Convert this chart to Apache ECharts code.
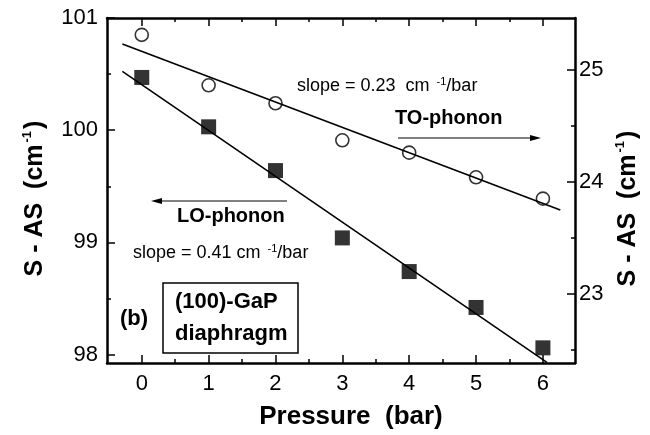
<!DOCTYPE html>
<html lang="en">

<head>
    <meta charset="UTF-8">
    <title>S-AS vs pressure</title>
    <style>
        html, body { margin: 0; padding: 0; background: #fff; }
        #chart { width: 650px; height: 435px; }
    </style>
    <script src="https://cdn.jsdelivr.net/npm/echarts@6/dist/echarts.min.js"></script>
</head>

<body>
    <div id="chart"></div>
    <script>
        // data
        var pressure = [0, 1, 2, 3, 4, 5, 6];
        var loPhonon = [100.47, 100.03, 99.64, 99.04, 98.74, 98.42, 98.06];   // left axis, squares
        var toPhonon = [25.31, 24.86, 24.70, 24.37, 24.26, 24.04, 23.85];     // right axis, circles
        // fitted lines (end points)
        var loFit = [[-0.29, 100.525], [6.06, 97.93]];
        var toFit = [[-0.29, 25.228], [6.26, 23.748]];

        var xMajor = [0, 1, 2, 3, 4, 5, 6];
        var xMinor = [0.5, 1.5, 2.5, 3.5, 4.5, 5.5];
        var leftMajor = [98, 99, 100, 101];
        var leftMinor = [98.5, 99.5, 100.5];
        var rightMajor = [23, 24, 25];
        var rightMinor = [22.5, 23.5, 24.5];

        var FONT = 'Liberation Sans, Arial, sans-serif';

        function pairs(xs, ys) {
            return xs.map(function (x, i) { return [x, ys[i]]; });
        }

        // one axis per tick set: major and minor ticks get their own (overlaid) axis
        function tickAxis(pos, min, max, ticks, len, opts) {
            var ax = {
                type: 'value',
                position: pos,
                min: min,
                max: max,
                axisLine: { show: false, onZero: false },
                axisTick: { show: true, inside: true, length: len, customValues: ticks, lineStyle: { color: '#000', width: 1.5 } },
                axisLabel: { show: false },
                splitLine: { show: false }
            };
            return Object.assign(ax, opts || {});
        }

        var frame = { show: true, onZero: false, lineStyle: { color: '#000', width: 2.5 } };
        var tickFont = { show: true, color: '#000', fontSize: 22, fontFamily: FONT };
        var titleRich = {
            t: { fontSize: 25, fontWeight: 'bold', fontFamily: FONT, color: '#000', lineHeight: 28 },
            s: { fontSize: 13, fontWeight: 'bold', fontFamily: FONT, color: '#000', verticalAlign: 'top', lineHeight: 14, padding: [0, 2, 0, 2] }
        };
        var noteRich = {
            t: { fontSize: 18, fontFamily: FONT, fill: '#000', lineHeight: 20 },
            s: { fontSize: 11, fontFamily: FONT, fill: '#000', verticalAlign: 'top', lineHeight: 11, padding: [0, 0, 0, 2] }
        };

        var X0 = -0.52, X1 = 6.48;
        var L0 = 97.925, L1 = 101;
        var R0 = 22.385, R1 = 25.46;

        echarts.init(document.getElementById('chart')).setOption({
            animation: false,
            backgroundColor: '#fff',
            grid: { left: 107, right: 75, top: 18, bottom: 69 },
            xAxis: [
                tickAxis('bottom', X0, X1, xMajor, 8, {
                    axisLine: frame,
                    axisLabel: Object.assign({ customValues: xMajor, margin: 10 }, tickFont),
                    name: 'Pressure  (bar)',
                    nameLocation: 'middle',
                    nameGap: 41,
                    nameTextStyle: { fontSize: 26, fontWeight: 'bold', fontFamily: FONT, color: '#000', padding: [0, 0, 0, 20] }
                }),
                tickAxis('bottom', X0, X1, xMinor, 4),
                tickAxis('top', X0, X1, xMajor, 8, { axisLine: frame }),
                tickAxis('top', X0, X1, xMinor, 4)
            ],
            yAxis: [
                tickAxis('left', L0, L1, leftMajor, 8, {
                    axisLine: frame,
                    axisLabel: Object.assign({ customValues: leftMajor, margin: 9 }, tickFont),
                    name: '{t|S - AS  (cm}{s|-1}{t|)}',
                    nameLocation: 'middle',
                    nameGap: 58,
                    nameTextStyle: { rich: titleRich, padding: [0, 16, 0, 0] }
                }),
                tickAxis('left', L0, L1, leftMinor, 4),
                tickAxis('right', R0, R1, rightMajor, 8, {
                    axisLine: frame,
                    axisLabel: Object.assign({ customValues: rightMajor, margin: 4 }, tickFont),
                    name: '{t|S - AS  (cm}{s|-1}{t|)}',
                    nameLocation: 'middle',
                    nameGap: 33,
                    nameTextStyle: { rich: titleRich, padding: [0, 36, 0, 0] }
                }),
                tickAxis('right', R0, R1, rightMinor, 4)
            ],
            series: [
                {
                    name: 'LO fit',
                    type: 'line',
                    xAxisIndex: 0,
                    yAxisIndex: 0,
                    data: loFit,
                    symbol: 'none',
                    lineStyle: { color: '#000', width: 1.6 },
                    z: 2
                },
                {
                    name: 'TO fit',
                    type: 'line',
                    xAxisIndex: 0,
                    yAxisIndex: 2,
                    data: toFit,
                    symbol: 'none',
                    lineStyle: { color: '#000', width: 1.6 },
                    z: 2
                },
                {
                    name: 'LO-phonon',
                    type: 'scatter',
                    xAxisIndex: 0,
                    yAxisIndex: 0,
                    data: pairs(pressure, loPhonon),
                    symbol: 'rect',
                    symbolSize: 15,
                    itemStyle: { color: '#000' },
                    z: 3
                },
                {
                    name: 'TO-phonon',
                    type: 'scatter',
                    xAxisIndex: 0,
                    yAxisIndex: 2,
                    data: pairs(pressure, toPhonon),
                    symbol: 'circle',
                    symbolSize: 13,
                    itemStyle: { color: 'rgba(0,0,0,0)', borderColor: '#000', borderWidth: 1.6 },
                    z: 3
                }
            ],
            graphic: [
                {
                    type: 'text', left: 297, top: 76,
                    style: { text: '{t|slope = 0.23  cm }{s|-1}{t|/bar}', rich: noteRich }
                },
                {
                    type: 'text', left: 395, top: 108,
                    style: { text: 'TO-phonon', font: 'bold 20px ' + FONT, fill: '#000' }
                },
                { type: 'line', shape: { x1: 398, y1: 138, x2: 532, y2: 138 }, style: { stroke: '#000', lineWidth: 1 } },
                { type: 'polygon', shape: { points: [[541, 138], [530, 135], [530, 141]] }, style: { fill: '#000' } },
                { type: 'line', shape: { x1: 161, y1: 201, x2: 287, y2: 201 }, style: { stroke: '#000', lineWidth: 1 } },
                { type: 'polygon', shape: { points: [[151, 201], [162, 198], [162, 204]] }, style: { fill: '#000' } },
                {
                    type: 'text', left: 177, top: 206,
                    style: { text: 'LO-phonon', font: 'bold 20px ' + FONT, fill: '#000' }
                },
                {
                    type: 'text', left: 133, top: 243,
                    style: { text: '{t|slope = 0.41 cm }{s|-1}{t|/bar}', rich: noteRich }
                },
                {
                    type: 'text', left: 120, top: 308,
                    style: { text: '(b)', font: 'bold 22px ' + FONT, fill: '#000' }
                },
                {
                    type: 'rect', shape: { x: 163, y: 283, width: 135, height: 70 },
                    style: { fill: 'none', stroke: '#000', lineWidth: 1.5 }
                },
                {
                    type: 'text', left: 175, top: 291,
                    style: { text: '(100)-GaP', font: 'bold 22px ' + FONT, fill: '#000' }
                },
                {
                    type: 'text', left: 175, top: 323,
                    style: { text: 'diaphragm', font: 'bold 22px ' + FONT, fill: '#000' }
                }
            ]
        });
    </script>
</body>

</html>
